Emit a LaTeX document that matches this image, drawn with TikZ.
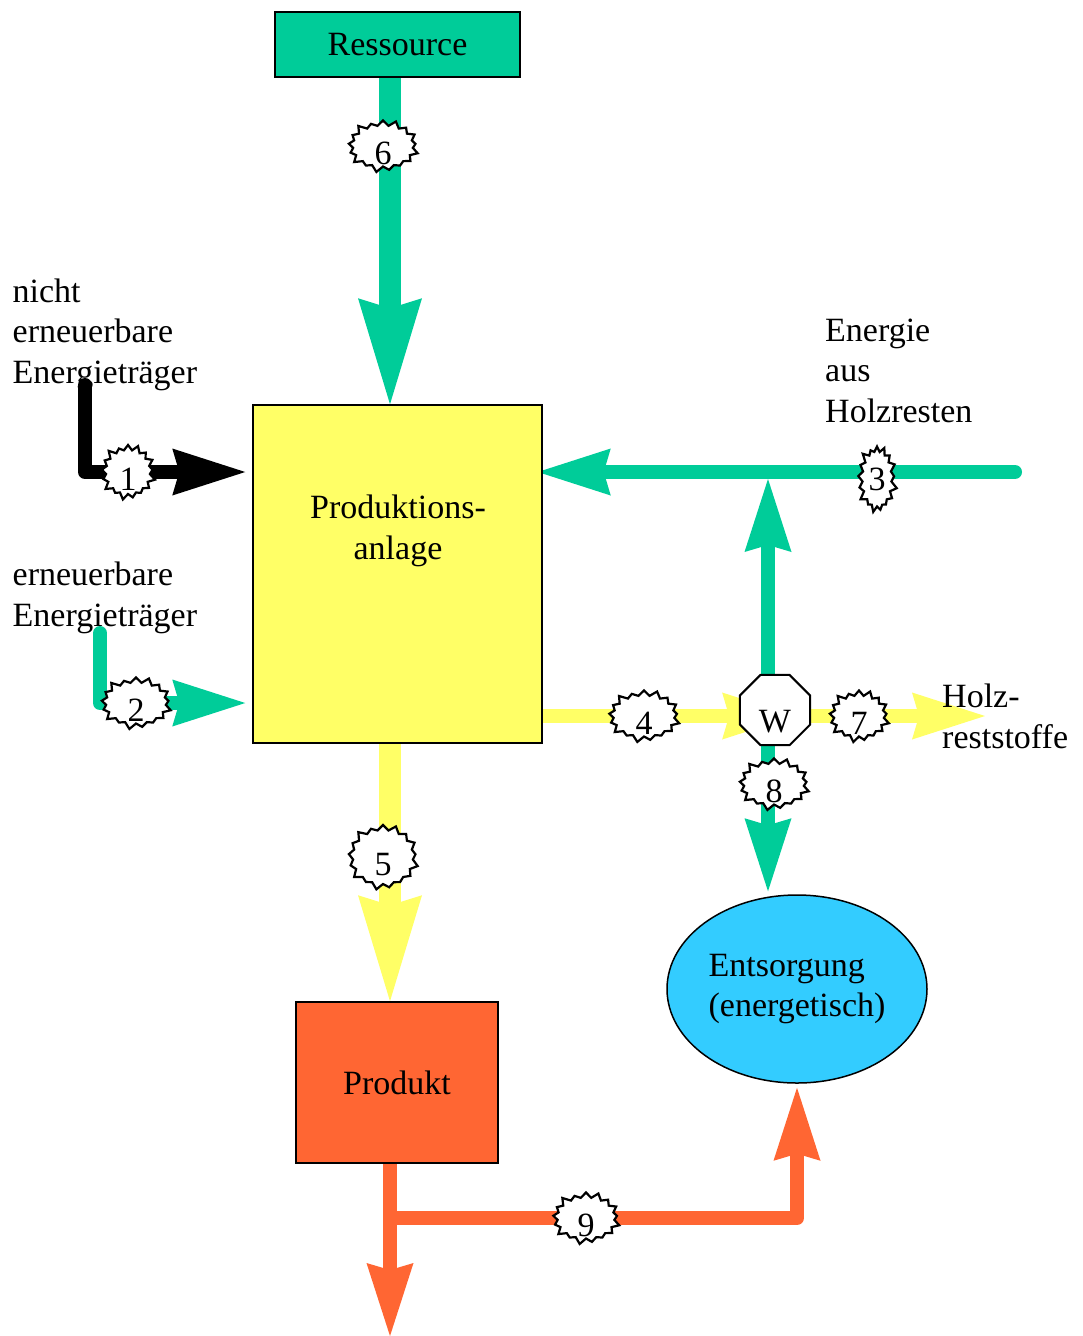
\documentclass[tikz,border=0pt]{standalone}
\usepackage{fontspec}
\setmainfont{Liberation Serif}
\usetikzlibrary{arrows.meta,shapes.geometric,shapes.symbols,backgrounds}

\definecolor{flowgreen}{RGB}{0,204,153}
\definecolor{flowyellow}{RGB}{255,255,102}
\definecolor{floworange}{RGB}{255,102,51}
\definecolor{flowblue}{RGB}{51,204,255}

\newcommand{\lowdigit}[1]{\raisebox{-7pt}[23pt][0pt]{#1}}

\tikzset{
  box/.style={draw, line width=1.5pt, rectangle, inner sep=0pt},
  lbl/.style={align=left, anchor=north west, inner sep=0pt},
  burst/.style={starburst, draw, fill=white, line width=2.2pt, starburst points=17,
    starburst point height=7pt, inner sep=0pt, minimum width=74pt, minimum height=55pt},
  thickflow/.style={line width=22pt, -{Stealth[length=106pt, width=64pt, inset=10pt, line width=0pt]}},
  thinflow/.style={line width=14pt, line cap=round, line join=round,
    -{Stealth[length=73pt, width=47pt, inset=7pt, line width=0pt]}},
}

\begin{document}
\begin{tikzpicture}[x=1pt, y=-1pt, font=\fontsize{34}{40.5}\selectfont]
  \useasboundingbox (0,0) rectangle (1082,1336);

  % boxes
  \node[box, fill=flowgreen, minimum width=245pt, minimum height=65pt] (res) at (397.5,44.5) {\raisebox{-2pt}{Ressource}};
  \node[box, fill=flowyellow, minimum width=289pt, minimum height=338pt] (anl) at (397.5,574) {};
  \node[align=center, anchor=north, inner sep=0pt] (anlText) at (398,494.8) {Produktions-\\anlage};
  \node[box, fill=floworange, minimum width=202pt, minimum height=161pt] (prd) at (397,1082.5) {\raisebox{-4pt}{Produkt}};
  \node[ellipse, draw, line width=1.5pt, fill=flowblue, inner sep=0pt, align=left,
    minimum width=260pt, minimum height=188pt] (ent) at (797,989) {Entsorgung\\(energetisch)};
  \node[regular polygon, regular polygon sides=8, draw, line width=2pt, fill=white,
    inner sep=0pt, minimum size=76pt] (W) at (775,710) {\raisebox{-11pt}[22.5pt][0pt]{W}};

  % texts
  \node[lbl] (nichtLbl) at (12.5,278.5) {nicht\\erneuerbare\\Energieträger};
  \node[lbl] (erneuerLbl) at (12.5,561.8) {erneuerbare\\Energieträger};
  \node[lbl] (holzLbl) at (825,318.5) {Energie\\aus\\Holzresten};
  \node[lbl] (restLbl) at (942,683.8) {Holz-\\reststoffe};

  % free ends and junctions
  \coordinate (nichtEnd) at (85,385);
  \coordinate (erneuerEnd) at (100,633);
  \coordinate (holzEnd) at (1015,472);
  \coordinate (tee) at (768,472);
  \coordinate (cross) at (768,716);
  \coordinate (restEnd) at (985,716);
  \coordinate (prdOut) at (390,1336);

  % numbered flows
  \node[burst, minimum width=58pt, minimum height=58pt] (s1) at (128,472) {\lowdigit{1}};
  \node[burst] (s2) at (136,703) {\lowdigit{2}};
  \node[burst, minimum width=43pt, minimum height=69pt] (s3) at (877,479) {3};
  \node[burst, minimum width=75pt] (s4) at (644,716) {\lowdigit{4}};
  \node[burst, minimum height=68pt] (s5) at (383,857) {\lowdigit{5}};
  \node[burst] (s6) at (383,146) {\lowdigit{6}};
  \node[burst, minimum width=64pt] (s7) at (859,716) {\lowdigit{7}};
  \node[burst] (s8) at (774,784) {\lowdigit{8}};
  \node[burst, minimum width=71pt] (s9) at (586,1218) {\lowdigit{9}};

  \begin{scope}[on background layer]
    \draw[thickflow, flowgreen] ([xshift=-7.5pt]res.south) -- ([xshift=-7.5pt]anl.north);
    \draw[thinflow, black, shorten >=7pt] (nichtEnd) |- (s1.center) -- (s1.center -| anl.west);
    \draw[thinflow, flowgreen, shorten >=7pt] (erneuerEnd) |- (s2.center) -- (s2.center -| anl.west);
    \draw[thinflow, flowgreen] (holzEnd) -- ([xshift=-5pt]holzEnd -| anl.east);
    \draw[thinflow, flowgreen, shorten >=7pt] (W.center -| tee) -- (tee);
    \draw[thinflow, flowyellow, line cap=butt, shorten >=16pt] (anl.east |- cross) -- (W.east |- cross);
    \draw[thinflow, flowyellow] (cross) -- (restEnd);
    \draw[thinflow, flowgreen, shorten >=3pt] (cross) -- (ent.north -| cross);
    \draw[thickflow, flowyellow] ([xshift=-7.5pt]anl.south) -- ([xshift=-7pt]prd.north);
    \draw[thinflow, floworange, line cap=butt] ([xshift=-7pt]prd.south) -- (prdOut);
    \draw[thinflow, floworange, shorten >=4pt] (s9.center -| prdOut) -- (s9.center) -| (ent.south);
  \end{scope}
\end{tikzpicture}
\end{document}
